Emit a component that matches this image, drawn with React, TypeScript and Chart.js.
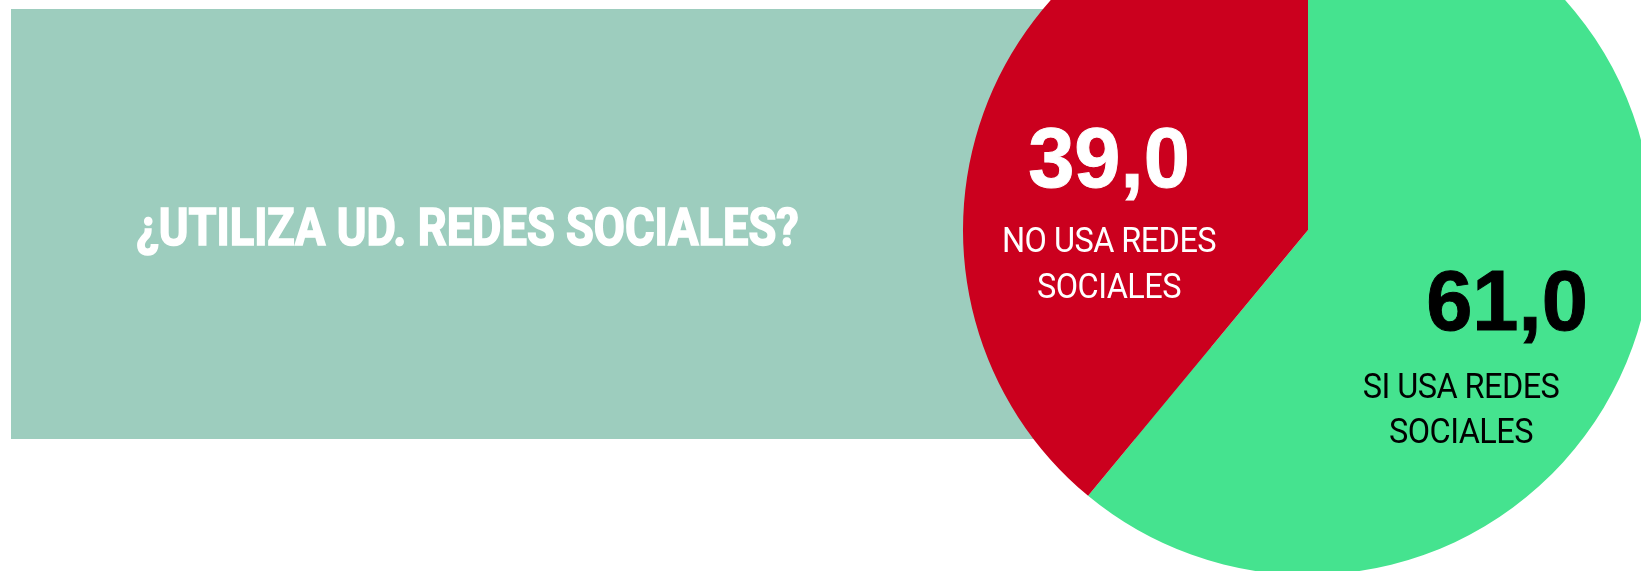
import React, { useEffect, useRef } from "react";
import { Chart, registerables } from "chart.js";

Chart.register(...registerables);

const categories = ["SI USA REDES SOCIALES", "NO USA REDES SOCIALES"];
const labelLines = [
  ["SI USA REDES", "SOCIALES"],
  ["NO USA REDES", "SOCIALES"],
];
const values = [61.0, 39.0];
const sliceColors = ["#45E38F", "#CB001E"];
const valueColors = ["#000000", "#FFFFFF"];
const title = "¿UTILIZA UD. REDES SOCIALES?";

const VW = 1641;
const VH = 571;
const OY = 115; // canvas extends above the viewport
const CW = 1653;
const CH = 690;

const fmt = (v: number) => v.toFixed(1).replace(".", ",");

const inkWidth = (ctx: CanvasRenderingContext2D, s: string) => {
  const m = ctx.measureText(s);
  const w = (m.actualBoundingBoxLeft || 0) + (m.actualBoundingBoxRight || 0);
  return w > 0 ? w : m.width;
};

export default function App() {
  const ref = useRef<HTMLCanvasElement | null>(null);

  useEffect(() => {
    if (!ref.current) return;

    const background = {
      id: "bgPanel",
      beforeDraw(chart: any) {
        const ctx = chart.ctx as any;
        ctx.save();
        ctx.fillStyle = "#FFFFFF";
        ctx.fillRect(0, 0, CW, CH);
        ctx.fillStyle = "#9DCDBE";
        ctx.fillRect(11, 9 + OY, 1200, 430);
        ctx.font = '700 52px Roboto, "Liberation Sans Narrow", sans-serif';
        ctx.letterSpacing = "0px";
        ctx.fillStyle = "#FFFFFF";
        ctx.strokeStyle = "#FFFFFF";
        ctx.lineWidth = 1.6;
        ctx.lineJoin = "miter";
        ctx.textBaseline = "alphabetic";
        ctx.textAlign = "left";
        const m = ctx.measureText(title);
        const sx = 661 / inkWidth(ctx, title);
        ctx.translate(137 + (m.actualBoundingBoxLeft || 0) * sx, 245 + OY);
        ctx.scale(sx, 1);
        ctx.fillText(title, 0, 0);
        ctx.strokeText(title, 0, 0);
        ctx.restore();
      },
    };

    const sliceLabels = {
      id: "sliceLabels",
      afterDatasetsDraw(chart: any) {
        const ctx = chart.ctx as any;
        const meta = chart.getDatasetMeta(0);
        const arc0 = meta.data[0];
        const cx = arc0.x;
        const cy = arc0.y;
        const k = arc0.outerRadius / 345;
        const pos = [
          { nx: 199, ny: 100, lx: 153, ly: [168, 213] },
          { nx: -199, ny: -43, lx: -199, ly: [22, 68] },
        ];
        ctx.save();
        ctx.textAlign = "center";
        ctx.textBaseline = "alphabetic";
        const numFont = 'bold 86px "Liberation Sans", Arimo, Arial, Helvetica, sans-serif';
        const lblFont = '35px Roboto, "Liberation Sans Narrow", sans-serif';
        ctx.letterSpacing = "0px";
        ctx.font = numFont;
        const numSx = 158 / inkWidth(ctx, "39,0");
        ctx.letterSpacing = "-0.6px";
        ctx.font = lblFont;
        const lblSx = 212 / inkWidth(ctx, "NO USA REDES");
        values.forEach((v, i) => {
          const p = pos[i];
          ctx.fillStyle = valueColors[i];
          ctx.strokeStyle = valueColors[i];
          ctx.letterSpacing = "0px";
          ctx.font = numFont;
          ctx.save();
          ctx.translate(cx + p.nx * k, cy + p.ny * k);
          ctx.scale(numSx, 1);
          ctx.lineWidth = 1;
          ctx.fillText(fmt(v), 0, 0);
          ctx.strokeText(fmt(v), 0, 0);
          ctx.restore();
          ctx.letterSpacing = "-0.6px";
          ctx.font = lblFont;
          labelLines[i].forEach((line, j) => {
            ctx.save();
            ctx.translate(cx + p.lx * k, cy + p.ly[j] * k);
            ctx.scale(lblSx, 1);
            ctx.fillText(line, 0, 0);
            ctx.restore();
          });
        });
        ctx.restore();
      },
    };

    const chart = new Chart(ref.current, {
      type: "pie",
      data: {
        labels: categories,
        datasets: [
          {
            data: values,
            backgroundColor: sliceColors,
            borderWidth: 0,
            hoverOffset: 0,
            offset: 0,
          },
        ],
      },
      options: {
        responsive: false,
        animation: false,
        events: [],
        layout: {
          padding: { left: 963, right: 0, top: 0, bottom: 0 },
        },
        plugins: {
          legend: { display: false },
          tooltip: { enabled: false },
          title: { display: false },
        },
      },
      plugins: [background, sliceLabels],
    });

    return () => chart.destroy();
  }, []);

  return (
    <div style={{ position: "fixed", left: 0, top: 0, width: VW, height: VH, overflow: "hidden", background: "#fff" }}>
      <canvas
        ref={ref}
        width={CW}
        height={CH}
        style={{ position: "absolute", left: 0, top: -OY, display: "block", width: CW, height: CH }}
      />
    </div>
  );
}
